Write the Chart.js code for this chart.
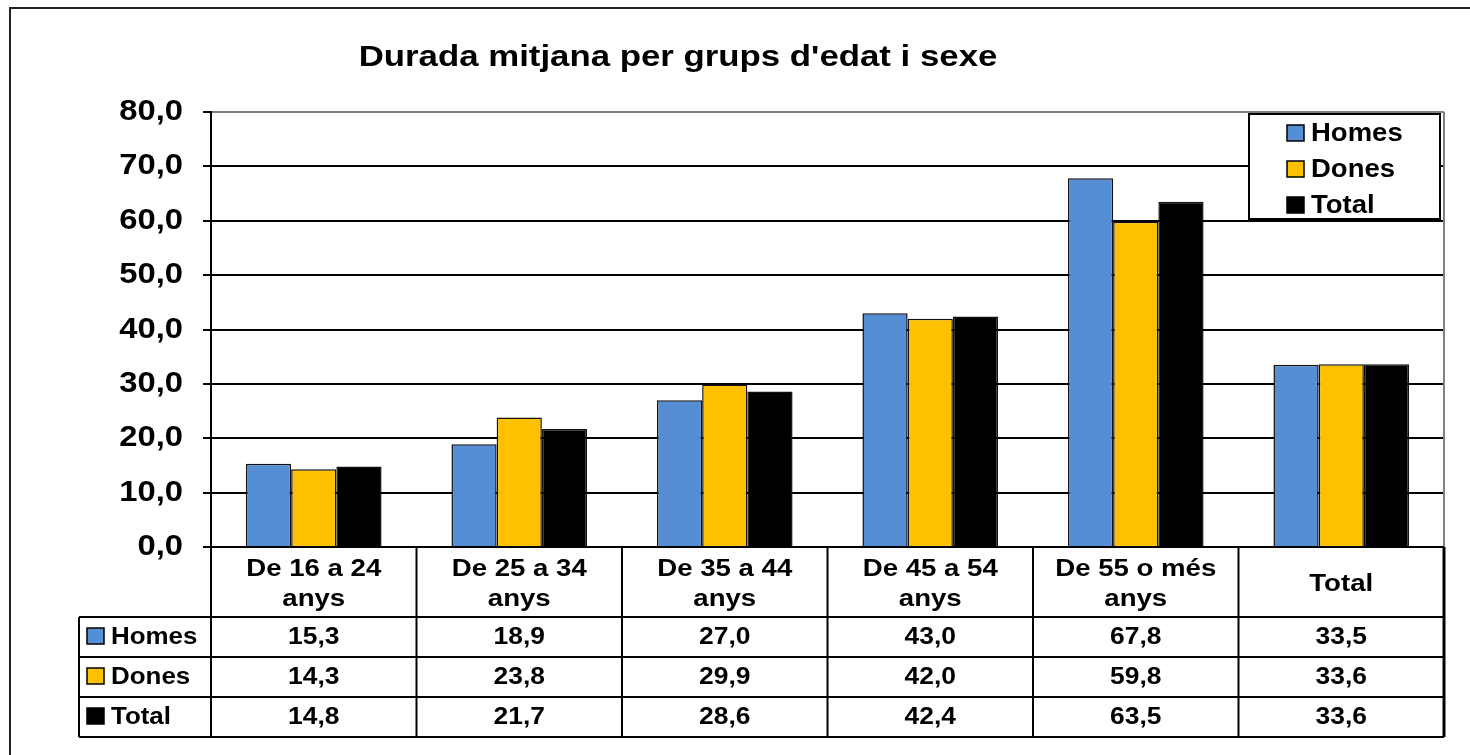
<!DOCTYPE html>
<html>
<head>
<meta charset="utf-8">
<script src="https://cdn.jsdelivr.net/npm/chart.js@4.4.1/dist/chart.umd.min.js"></script>
<style>
  html, body { margin: 0; padding: 0; background: #fff; }
  #wrap { width: 1470px; height: 755px; position: relative; }
</style>
</head>
<body>
<div id="wrap"><canvas id="myChart" width="1470" height="755"></canvas></div>
<script>
const title = "Durada mitjana per grups d'edat i sexe";
const categories = [['De 16 a 24', 'anys'], ['De 25 a 34', 'anys'], ['De 35 a 44', 'anys'], ['De 45 a 54', 'anys'], ['De 55 o més', 'anys'], ['Total']];
const seriesNames = ['Homes', 'Dones', 'Total'];
const homes = [15.3, 18.9, 27.0, 43.0, 67.8, 33.5];
const dones = [14.3, 23.8, 29.9, 42.0, 59.8, 33.6];
const total = [14.8, 21.7, 28.6, 42.4, 63.5, 33.6];
const yTicks = [0, 10, 20, 30, 40, 50, 60, 70, 80];

const colors = ['#558ed5', '#ffc000', '#000000'];
const FONT = '"Liberation Sans", Arial, sans-serif';
const fmt = v => v.toFixed(1).replace('.', ',');

// draw bold text stretched horizontally (the source image is wider than tall)
function txt(ctx, s, x, y, size, align, sx) {
  sx = sx || 1.17;
  ctx.save();
  ctx.font = 'bold ' + size + 'px ' + FONT;
  ctx.fillStyle = '#000';
  ctx.textBaseline = 'middle';
  ctx.textAlign = align || 'center';
  ctx.translate(x, y);
  ctx.scale(sx, 1);
  ctx.fillText(s, 0, 0);
  ctx.restore();
}

function line(ctx, x1, y1, x2, y2, w, c) {
  ctx.save();
  ctx.strokeStyle = c || '#000';
  ctx.lineWidth = w || 2;
  ctx.beginPath();
  ctx.moveTo(x1, y1);
  ctx.lineTo(x2, y2);
  ctx.stroke();
  ctx.restore();
}

const extras = {
  id: 'extras',
  beforeDraw(chart) {
    const ctx = chart.ctx;
    ctx.save();
    ctx.fillStyle = '#fff';
    ctx.fillRect(0, 0, chart.width, chart.height);
    ctx.restore();
    // outer frame
    ctx.save();
    ctx.strokeStyle = '#222';
    ctx.lineWidth = 2;
    ctx.strokeRect(10, 8, 1500, 800);
    ctx.restore();
  },
  afterDraw(chart) {
    const ctx = chart.ctx;
    const area = chart.chartArea;
    const xs = chart.scales.x;
    const ys = chart.scales.y;

    // title
    txt(ctx, title, 678, 58, 29, 'center', 1.2);

    // y tick labels
    yTicks.forEach(v => txt(ctx, fmt(v), 183, ys.getPixelForValue(v), 29, 'right', 1.13));

    // plot border right side
    line(ctx, area.right, area.top, area.right, area.bottom, 2, '#808080');

    // data table
    const rowTops = [617, 657, 697, 737];
    const half = (xs.getPixelForValue(1) - xs.getPixelForValue(0)) / 2;
    const bottom = rowTops[3];
    // horizontal lines
    line(ctx, area.left, area.bottom, area.right, area.bottom, 2);
    rowTops.forEach(y => line(ctx, 79, y, area.right, y, 2));
    // vertical lines
    line(ctx, 79, rowTops[0], 79, bottom, 2);
    line(ctx, area.left, area.top, area.left, bottom, 2);
    categories.forEach((c, i) => {
      const xr = xs.getPixelForValue(i) + half;
      line(ctx, xr, area.bottom, xr, bottom, i === categories.length - 1 ? 3 : 2);
    });
    // header
    categories.forEach((c, i) => {
      const cx = xs.getPixelForValue(i);
      if (c.length === 2) {
        txt(ctx, c[0], cx, 570, 23, 'center', 1.2);
        txt(ctx, c[1], cx, 600, 23, 'center', 1.2);
      } else {
        txt(ctx, c[0], cx, 585, 23, 'center', 1.2);
      }
    });
    // rows
    const data = [homes, dones, total];
    data.forEach((arr, r) => {
      const cy = (rowTops[r] + rowTops[r + 1]) / 2;
      ctx.save();
      ctx.fillStyle = colors[r];
      ctx.fillRect(87, cy - 9, 17, 16);
      ctx.strokeStyle = '#000';
      ctx.lineWidth = 1.5;
      ctx.strokeRect(87, cy - 9, 17, 16);
      ctx.restore();
      txt(ctx, seriesNames[r], 111, cy, 24, 'left', 1.08);
      arr.forEach((v, i) => txt(ctx, fmt(v), xs.getPixelForValue(i), cy, 24, 'center', 1.1));
    });

    // legend
    ctx.save();
    ctx.fillStyle = '#fff';
    ctx.fillRect(1249, 114, 191, 105);
    ctx.strokeStyle = '#000';
    ctx.lineWidth = 2;
    ctx.strokeRect(1249, 114, 191, 105);
    ctx.restore();
    seriesNames.forEach((n, r) => {
      const cy = 133 + r * 36;
      ctx.save();
      ctx.fillStyle = colors[r];
      ctx.fillRect(1287, cy - 8, 17, 16);
      ctx.strokeStyle = '#000';
      ctx.lineWidth = 1.5;
      ctx.strokeRect(1287, cy - 8, 17, 16);
      ctx.restore();
      txt(ctx, n, 1311, cy + 1, 25, 'left', 1.1);
    });
  }
};

const ctx = document.getElementById('myChart').getContext('2d');
const chartInstance = new Chart(ctx, {
  type: 'bar',
  data: {
    labels: categories,
    datasets: [homes, dones, total].map((d, i) => ({
      label: seriesNames[i],
      data: d,
      backgroundColor: colors[i],
      borderColor: '#111',
      borderWidth: 1.5,
      categoryPercentage: 0.66,
      barPercentage: 1.0,
    })),
  },
  options: {
    responsive: false,
    animation: false,
    devicePixelRatio: 1,
    layout: { padding: { top: 112, right: 26, left: 0, bottom: 0 } },
    plugins: {
      legend: { display: false },
      tooltip: { enabled: false },
      title: { display: false },
    },
    scales: {
      x: {
        grid: { display: false },
        border: { display: true, color: '#000', width: 2 },
        ticks: { display: false },
        afterFit: s => { s.height = 208; },
      },
      y: {
        min: 0,
        max: 80,
        ticks: { display: false, stepSize: 10 },
        grid: {
          color: c => (c.tick && c.tick.value === 80 ? '#808080' : '#000'),
          lineWidth: 2,
          drawTicks: true,
          tickLength: 8,
          tickColor: '#000',
        },
        border: { display: true, color: '#000', width: 2 },
        afterFit: s => { s.width = 211; },
      },
    },
  },
  plugins: [extras],
});
</script>
</body>
</html>
